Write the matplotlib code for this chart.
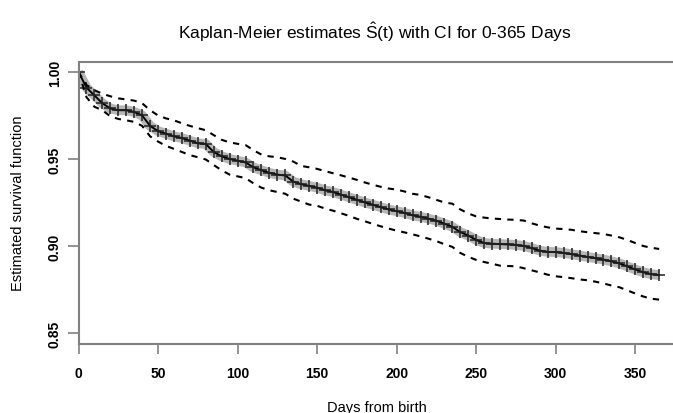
import matplotlib
matplotlib.use("Agg")
import matplotlib.pyplot as plt

# Kaplan-Meier estimate and 95% CI, read every 5 days off the reference
days = [0, 5, 10, 15, 20, 25, 30, 35, 40, 45, 50, 55, 60, 65, 70, 75, 80, 85, 90, 95,
        100, 105, 110, 115, 120, 125, 130, 135, 140, 145, 150, 155, 160, 165, 170, 175,
        180, 185, 190, 195, 200, 205, 210, 215, 220, 225, 230, 235, 240, 245, 250, 255,
        260, 265, 270, 275, 280, 285, 290, 295, 300, 305, 310, 315, 320, 325, 330, 335,
        340, 345, 350, 355, 360, 365]
surv = [1.000, 0.991, 0.9865, 0.982, 0.979, 0.978, 0.978, 0.977, 0.975, 0.969,
        0.966, 0.9645, 0.963, 0.962, 0.9605, 0.959, 0.9586, 0.954, 0.9515, 0.950,
        0.949, 0.948, 0.9452, 0.9435, 0.942, 0.941, 0.9405, 0.937, 0.9355, 0.9345,
        0.9335, 0.932, 0.931, 0.9295, 0.928, 0.9265, 0.925, 0.9237, 0.9223, 0.921,
        0.920, 0.919, 0.9176, 0.9168, 0.9157, 0.9145, 0.9128, 0.911, 0.908, 0.906,
        0.9035, 0.9017, 0.9013, 0.9011, 0.9009, 0.9006, 0.900, 0.8988, 0.8973, 0.8966,
        0.8965, 0.896, 0.8953, 0.8945, 0.8937, 0.893, 0.8922, 0.8912, 0.890, 0.8883,
        0.8865, 0.8849, 0.8838, 0.8833]
upper = [1.000, 0.9925, 0.9895, 0.9875, 0.986, 0.9848, 0.9842, 0.9835, 0.982, 0.978,
         0.975, 0.9733, 0.9722, 0.9705, 0.969, 0.9677, 0.9665, 0.9637, 0.961, 0.9595,
         0.9587, 0.958, 0.955, 0.9525, 0.9515, 0.951, 0.950, 0.9485, 0.946, 0.9452,
         0.9443, 0.943, 0.9418, 0.9406, 0.9393, 0.938, 0.9365, 0.9352, 0.934, 0.933,
         0.9324, 0.9313, 0.930, 0.9293, 0.928, 0.9265, 0.925, 0.9243, 0.921, 0.9187,
         0.917, 0.9163, 0.9158, 0.9155, 0.9152, 0.915, 0.9146, 0.913, 0.9117, 0.9107,
         0.910, 0.9097, 0.9093, 0.9085, 0.9079, 0.9074, 0.9069, 0.906, 0.905, 0.9035,
         0.9017, 0.900, 0.899, 0.8983]
lower = [1.000, 0.9855, 0.980, 0.978, 0.9745, 0.973, 0.9722, 0.9713, 0.969, 0.963,
         0.960, 0.9575, 0.9558, 0.954, 0.9522, 0.951, 0.9497, 0.9465, 0.9435, 0.941,
         0.940, 0.939, 0.936, 0.9335, 0.932, 0.931, 0.930, 0.9272, 0.9255, 0.9238,
         0.9231, 0.9215, 0.9203, 0.9188, 0.9173, 0.9156, 0.9142, 0.9127, 0.9113, 0.910,
         0.9088, 0.9078, 0.9067, 0.9055, 0.9042, 0.9028, 0.901, 0.8995, 0.896, 0.8938,
         0.892, 0.8908, 0.8898, 0.8887, 0.8885, 0.8883, 0.8872, 0.886, 0.8848, 0.8835,
         0.8826, 0.8821, 0.8815, 0.8808, 0.8803, 0.8795, 0.8785, 0.8773, 0.8763, 0.8745,
         0.8727, 0.871, 0.8697, 0.8692]

xticks = [0, 50, 100, 150, 200, 250, 300, 350]
yticks = [0.85, 0.90, 0.95, 1.00]

plt.rcParams["font.family"] = ["Liberation Sans", "DejaVu Sans"]
plt.rcParams["mathtext.fontset"] = "custom"
plt.rcParams["mathtext.rm"] = "Liberation Sans"
plt.rcParams["mathtext.it"] = "Liberation Sans"

W, H = 673, 414
fig = plt.figure(figsize=(W / 100, H / 100), dpi=100)
# plot region runs off the right edge like the cropped original
ax = fig.add_axes([78.5 / W, (H - 345) / H, (683 - 78.5) / W, 282 / H])

# censor marks in the original are so dense they smear into a grey band
ax.plot(days, surv, color="#7a7a7a", lw=7, alpha=0.55, solid_capstyle="butt")
ax.plot(days, surv, color="black", lw=1.4, marker="+", ms=9, mew=1.1, mec="#202020")
ax.plot(days, upper, color="black", lw=1.5, ls=(0, (3, 3)))
ax.plot(days, lower, color="black", lw=1.5, ls=(0, (3, 3)))

ax.set_xlim(0, 380)
ax.set_ylim(0.8437, 1.0057)
ax.set_xticks(xticks)
ax.set_yticks(yticks)
ax.set_xticklabels([str(t) for t in xticks], fontweight="bold", fontsize=10)
ax.set_yticklabels([f"{v:.2f}" for v in yticks], fontweight="bold", fontsize=10,
                   rotation=90, va="center")
ax.tick_params(axis="x", length=7, width=1.2, color="#808080", pad=9)
ax.tick_params(axis="y", length=8, width=1.2, color="#808080", pad=4)
for side in ["left", "top", "bottom", "right"]:
    ax.spines[side].set_color("#808080")
    ax.spines[side].set_linewidth(1.5)

fig.text(375 / W, 1 - 32 / H, r"Kaplan-Meier estimates $\mathrm{\hat{S}(t)}$ with CI for 0-365 Days",
         ha="center", va="center", fontsize=12.5)
fig.text(377 / W, 1 - 408 / H, "Days from birth", ha="center", va="center", fontsize=10.5)
fig.text(18 / W, 1 - 203 / H, "Estimated survival function", ha="center", va="center",
         rotation=90, fontsize=10.5)

fig.savefig("out.png", dpi=100)
